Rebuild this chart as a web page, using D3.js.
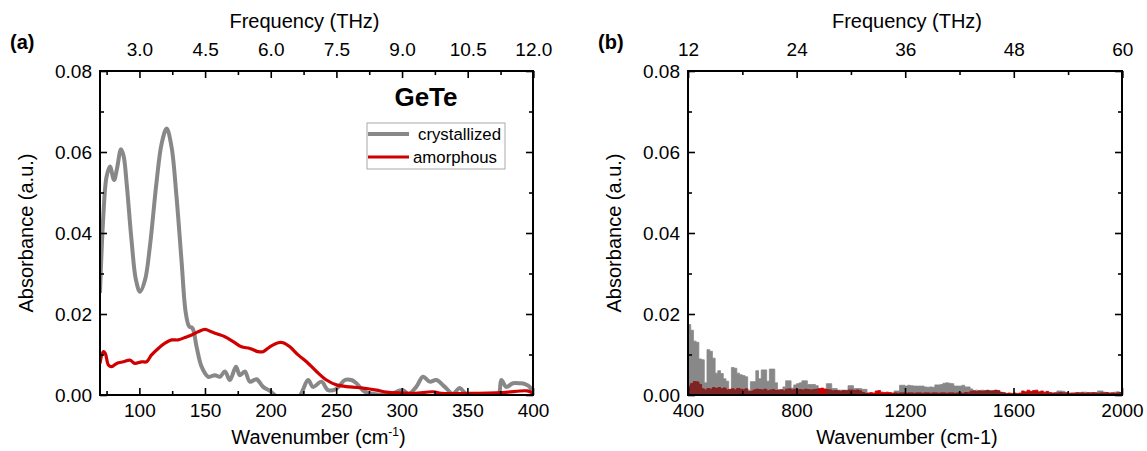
<!DOCTYPE html>
<html><head><meta charset="utf-8">
<script src="https://cdn.jsdelivr.net/npm/d3@7"></script>
<style>
body{margin:0;background:#fff;}
svg{display:block;font-family:"Liberation Sans",Arial,sans-serif;}
</style></head><body>
<svg id="c" width="1147" height="451"></svg>
<script>
// ---------- DATA ----------
const THZ_PER_CM = 33.356; // cm^-1 per THz

// Panel (a) crystallized GeTe
const aCrystWn = [70,72.5,75,77.6,80.7,83,86,88,90.3,94,97.4,100.5,104.3,108,113,117,120.8,124.5,128.3,132.1,135.4,138,140.5,143.6,147.4,152.5,157.6,161.4,165.2,169,173.6,176.6,180.4,184.2,189.3,194.3,199.5,205,215,222,228.6,232.4,238.8,243.8,250,256.6,261.6,265.4,271.8,280,290,301,305,311,316.2,321.3,326.4,332.8,339,344.2,349,360,370,374,375.9,379.7,384.7,389.9,394,397.5,400];
const aCrystAbs = [0.0252,0.044,0.0539,0.0564,0.0531,0.056,0.0607,0.059,0.0523,0.0383,0.0284,0.0255,0.0284,0.0366,0.0523,0.0621,0.0658,0.0613,0.049,0.0333,0.0202,0.0169,0.0165,0.0119,0.007,0.0045,0.0049,0.0045,0.0058,0.0037,0.007,0.0049,0.0058,0.0033,0.0039,0.002,0.001,-0.0004,-0.0008,-0.0002,0.0037,0.002,0.0033,0.0012,0.0015,0.0037,0.0037,0.0029,0.0008,0.0002,0.0001,0.0012,0.0002,0.002,0.0045,0.0033,0.0037,0.002,0.0003,0.0017,0.0002,-0.0008,-0.0008,0.0002,0.0037,0.002,0.0029,0.0029,0.0027,0.002,0.0004];

// Panel (a) amorphous GeTe
const aAmorWn = [70,72.5,74,76.4,78.9,82.7,87.8,92.9,96.6,101.7,105.5,109.3,114.4,119.5,124.5,129.6,134.7,139.8,144.8,150,155,160,165.2,171.5,177.8,184.2,190.5,194.3,199.5,205.8,209.6,214.7,221,227.4,235,242.6,250.2,260.4,270.5,280.7,288.3,301,310,323.8,330,350,377,395.7,400];
const aAmorAbs = [0.0078,0.0107,0.0103,0.0074,0.007,0.0078,0.0082,0.0086,0.0078,0.0082,0.0082,0.0099,0.0115,0.0128,0.0136,0.0136,0.0142,0.0148,0.0156,0.0162,0.0156,0.015,0.0144,0.0132,0.0119,0.0115,0.0107,0.0107,0.0119,0.0129,0.0129,0.0119,0.0099,0.0082,0.0058,0.0037,0.0025,0.002,0.0017,0.0012,0.0007,0.0005,0.0004,0.0008,0.0004,0.0004,0.0006,0.001,0.0004];

// Panel (b) wavenumber grid (cm^-1)
const bWn = [400,410,420,430,440,450,460,470,480,490,500,510,520,530,540,550,560,570,580,590,600,610,620,630,640,650,660,670,680,690,700,710,720,730,740,750,760,770,780,790,800,810,820,830,840,850,860,870,880,890,900,910,920,930,940,950,960,970,980,990,1000,1010,1020,1030,1040,1050,1060,1070,1080,1090,1100,1110,1120,1130,1140,1150,1160,1170,1180,1190,1200,1210,1220,1230,1240,1250,1260,1270,1280,1290,1300,1310,1320,1330,1340,1350,1360,1370,1380,1390,1400,1410,1420,1430,1440,1450,1460,1470,1480,1490,1500,1510,1520,1530,1540,1550,1560,1570,1580,1590,1600,1610,1620,1630,1640,1650,1660,1670,1680,1690,1700,1710,1720,1730,1740,1750,1760,1770,1780,1790,1800,1810,1820,1830,1840,1850,1860,1870,1880,1890,1900,1910,1920,1930,1940,1950,1960,1970,1980,1990,2000];
const bCryst = [0.0174,0.016,0.0133,0.013,0.0089,0.0087,0.003,0.0112,0.0108,0.0091,0.0054,0.006,0.0053,0.004,0.0034,0.0012,0.0068,0.0066,0.0054,0.005,0.0048,0.0045,0.0012,0.0033,0.0033,0.006,0.004,0.0062,0.0062,0.0034,0.0064,0.0064,0.003,0.0012,0.0012,0.002,0.0035,0.0035,0.0017,0.0025,0.0028,0.003,0.0035,0.0035,0.0026,0.0026,0.0026,0.0023,0.0002,0.0002,0.0002,0.0028,0.0028,0.0016,0.0016,0.0012,0.0012,0.0012,0.0012,0.0023,0.0023,0.0016,0.0016,0.0016,0.0014,0.0014,0,0,0,0,0,0,0,0,0,0,0.001,0.001,0.0024,0.0024,0.0022,0.0024,0.0023,0.0022,0.0022,0.0022,0.0022,0.002,0.0019,0.002,0.0019,0.0025,0.0025,0.0026,0.0029,0.003,0.0029,0.0028,0.0022,0.0022,0.0022,0.0024,0.002,0.002,0.0015,0.001,0.0012,0.001,0.0012,0.001,0.0012,0.0011,0.001,0.0011,0.0008,0.0007,0.0006,0.0003,0.0002,0.0002,0.0002,0.0002,0.0002,0.0003,0.0002,0.0003,0.0004,0.0003,0.0004,0.0003,0.0004,0.0004,0.0003,0.0004,0.0004,0.0005,0.001,0.001,0.0009,0.0006,0.0004,0.0003,0.0004,0.0003,0.0005,0.0007,0.0007,0.0006,0.0005,0.0004,0.0005,0.001,0.001,0.0007,0.0005,0.0004,0.0005,0.0007,0.0008,0.0006,0.0004];
const bAmor = [0.0022,0.0028,0.0033,0.0032,0.0026,0.0015,0.0012,0.0016,0.0014,0.0018,0.0016,0.0018,0.0015,0.0017,0.0012,0.0014,0.0015,0.0012,0.0016,0.0014,0.0013,0.0015,0.0008,0.0009,0.0012,0.0014,0.0013,0.0012,0.0014,0.001,0.0012,0.0013,0.0011,0.0012,0.0013,0.001,0.0014,0.0015,0.0012,0.0014,0.0013,0.0013,0.0012,0.0014,0.0013,0.0012,0.0013,0.0014,0.0016,0.0017,0.0015,0.0013,0.0012,0.001,0.0011,0.001,0.0009,0.0011,0.001,0.0012,0.0012,0.0011,0.0012,0.001,0.0006,0.0004,0.0005,0.0006,0.0005,0.001,0.0011,0.0007,0.0006,0.0007,0.0006,0.0005,0.0005,0.0004,0.0005,0.0005,0.0004,0.0005,0.0005,0.0004,0.0005,0.0005,0.0004,0.0005,0.0005,0.0004,0.0005,0.0005,0.0004,0.0005,0.0005,0.0004,0.0005,0.0005,0.0004,0.0005,0.0005,0.0004,0.0006,0.0005,0.0009,0.001,0.0008,0.001,0.0009,0.001,0.0011,0.0009,0.001,0.0012,0.0011,0.0006,0.0005,0.0004,0.0005,0.0004,0.0005,0.0004,0.0005,0.001,0.0008,0.0012,0.0009,0.0011,0.0012,0.0008,0.001,0.0007,0.0009,0.0006,0.0005,0.0005,0.0005,0.0006,0.0005,0.0005,0.0004,0.0005,0.0005,0.0006,0.0005,0.0005,0.0004,0.0005,0.0005,0.0006,0.0005,0.0004,0.0005,0.0005,0.0006,0.0005,0.0005,0.0004,0.0005,0.0006,0.0005];

// Tick values
const aWnTicks = [100,150,200,250,300,350,400];
const aWnMinor = [75,125,175,225,275,325,375];
const aFreqTicks = [3.0,4.5,6.0,7.5,9.0,10.5,12.0];
const aFreqMinor = [2.25,3.75,5.25,6.75,8.25,9.75,11.25];
const bWnTicks = [400,800,1200,1600,2000];
const bWnMinor = [600,1000,1400,1800];
const bFreqTicks = [12,24,36,48,60];
const bFreqMinor = [18,30,42,54];
const absTicks = [0.00,0.02,0.04,0.06,0.08];
const absMinor = [0.01,0.03,0.05,0.07];
const seriesNames = ["crystallized","amorphous"];

// ---------- DRAW ----------
const svg = d3.select("#c");
const FS = 19;
const GRAY = "#888888", RED = "#d00000", OVERLAP = "#7d2424";
const plotTop = 71, plotBottom = 395;

function panel(cfg){
  const g = svg.append("g");
  const x = d3.scaleLinear().domain(cfg.wnDomain).range([cfg.left, cfg.right]);
  const xf = d3.scaleLinear().domain(cfg.wnDomain.map(v=>v/THZ_PER_CM)).range([cfg.left, cfg.right]);
  const y = d3.scaleLinear().domain([0,0.08]).range([plotBottom, plotTop]);
  const clipId = "clip"+cfg.id;
  svg.append("clipPath").attr("id",clipId).append("rect")
    .attr("x",cfg.left).attr("y",plotTop).attr("width",cfg.right-cfg.left).attr("height",plotBottom-plotTop);
  const plot = g.append("g").attr("clip-path",`url(#${clipId})`);
  cfg.drawData(plot, x, y);

  function styleAxis(sel, fontSize){
    sel.select(".domain").remove();
    sel.selectAll(".tick line").attr("stroke","#000").attr("stroke-width",1.6);
    sel.selectAll("text").attr("font-size",fontSize).attr("fill","#000")
      .attr("font-family","Liberation Sans, Arial, sans-serif");
  }
  // bottom
  g.append("g").attr("transform",`translate(0,${plotBottom})`)
    .call(d3.axisBottom(x).tickValues(cfg.wnTicks).tickSize(-7).tickPadding(9).tickFormat(d3.format("d")))
    .call(s=>styleAxis(s,FS));
  g.append("g").attr("transform",`translate(0,${plotBottom})`)
    .call(d3.axisBottom(x).tickValues(cfg.wnMinor).tickSize(-4).tickFormat(""))
    .call(s=>styleAxis(s,FS));
  // top
  g.append("g").attr("transform",`translate(0,${plotTop})`)
    .call(d3.axisTop(xf).tickValues(cfg.fTicks).tickSize(-7).tickPadding(15).tickFormat(cfg.fFormat))
    .call(s=>styleAxis(s,FS));
  g.append("g").attr("transform",`translate(0,${plotTop})`)
    .call(d3.axisTop(xf).tickValues(cfg.fMinor).tickSize(-4).tickFormat(""))
    .call(s=>styleAxis(s,FS));
  // left
  g.append("g").attr("transform",`translate(${cfg.left},0)`)
    .call(d3.axisLeft(y).tickValues(absTicks).tickSize(-7).tickPadding(8).tickFormat(d3.format(".2f")))
    .call(s=>styleAxis(s,FS));
  g.append("g").attr("transform",`translate(${cfg.left},0)`)
    .call(d3.axisLeft(y).tickValues(absMinor).tickSize(-4).tickFormat(""))
    .call(s=>styleAxis(s,FS));
  // right
  g.append("g").attr("transform",`translate(${cfg.right},0)`)
    .call(d3.axisRight(y).tickValues(absTicks).tickSize(-7).tickFormat(""))
    .call(s=>styleAxis(s,FS));
  g.append("g").attr("transform",`translate(${cfg.right},0)`)
    .call(d3.axisRight(y).tickValues(absMinor).tickSize(-4).tickFormat(""))
    .call(s=>styleAxis(s,FS));
  // frame
  g.append("rect").attr("x",cfg.left).attr("y",plotTop).attr("width",cfg.right-cfg.left).attr("height",plotBottom-plotTop)
    .attr("fill","none").attr("stroke","#000").attr("stroke-width",2);

  const cx = (cfg.left+cfg.right)/2;
  g.append("text").attr("x",cx+cfg.titleShift).attr("y",28).attr("text-anchor","middle").attr("font-size",FS+1).text("Frequency (THz)");
  const xt = g.append("text").attr("x",cx+2).attr("y",444).attr("text-anchor","middle").attr("font-size",FS+1);
  cfg.xTitle(xt);
  g.append("text").attr("transform",`translate(${cfg.left-67},${(plotTop+plotBottom)/2}) rotate(-90)`)
    .attr("text-anchor","middle").attr("font-size",FS+1).text("Absorbance (a.u.)");
  g.append("text").attr("x",cfg.left-90).attr("y",49).attr("font-size",FS+1).attr("font-weight","bold").text(cfg.label);
  return {g,x,y};
}

// Panel (a)
const pa = panel({
  id:"a", left:100, right:533, wnDomain:[70,400], label:"(a)", titleShift:-12,
  wnTicks:aWnTicks, wnMinor:aWnMinor, fTicks:aFreqTicks, fMinor:aFreqMinor, fFormat:d3.format(".1f"),
  xTitle: t => { t.append("tspan").text("Wavenumber (cm");
                 t.append("tspan").attr("font-size",12).attr("dy",-8).text("-1");
                 t.append("tspan").attr("dy",8).text(")"); },
  drawData:(p,x,y)=>{
    const line = d3.line().curve(d3.curveCatmullRom.alpha(0.5));
    p.append("path").attr("d",line(aCrystWn.map((w,i)=>[x(w),y(aCrystAbs[i])])))
      .attr("fill","none").attr("stroke",GRAY).attr("stroke-width",4).attr("stroke-linejoin","round");
    p.append("path").attr("d",line(aAmorWn.map((w,i)=>[x(w),y(aAmorAbs[i])])))
      .attr("fill","none").attr("stroke",RED).attr("stroke-width",3.2).attr("stroke-linejoin","round");
  }
});
// GeTe title & legend
pa.g.append("text").attr("x",426).attr("y",106).attr("text-anchor","middle")
  .attr("font-size",26).attr("font-weight","bold").text("GeTe");
const leg = pa.g.append("g");
leg.append("rect").attr("x",367).attr("y",123).attr("width",138).attr("height",46)
  .attr("fill","#fff").attr("stroke","#aaa").attr("stroke-width",1);
[[GRAY,134,418],[RED,157,413]].forEach((d,i)=>{
  leg.append("line").attr("x1",368).attr("x2",409).attr("y1",d[1]).attr("y2",d[1])
    .attr("stroke",d[0]).attr("stroke-width",i===0?4:3.2);
  leg.append("text").attr("x",d[2]).attr("y",d[1]+6).attr("font-size",16.8).text(seriesNames[i]);
});

// Panel (b)
panel({
  id:"b", left:688, right:1122, wnDomain:[400,2000], label:"(b)", titleShift:2,
  wnTicks:bWnTicks, wnMinor:bWnMinor, fTicks:bFreqTicks, fMinor:bFreqMinor, fFormat:d3.format("d"),
  xTitle: t => t.text("Wavenumber (cm-1)"),
  drawData:(p,x,y)=>{
    const area = d3.area().curve(d3.curveStepAfter).x(d=>x(d[0])).y0(y(0)).y1(d=>y(d[1]));
    p.append("path").attr("d",area(bWn.map((w,i)=>[w,bCryst[i]])))
      .attr("fill",GRAY).attr("stroke",GRAY).attr("stroke-width",0.8);
    p.append("path").attr("d",area(bWn.map((w,i)=>[w,bAmor[i]])))
      .attr("fill",RED).attr("stroke",RED).attr("stroke-width",0.8);
    // where the red trace lies in front of the gray one it appears darkened
    p.append("path").attr("d",area(bWn.map((w,i)=>[w,Math.min(bAmor[i],bCryst[i])])))
      .attr("fill",OVERLAP).attr("stroke",OVERLAP).attr("stroke-width",0.8);
  }
});
</script>
</body></html>
